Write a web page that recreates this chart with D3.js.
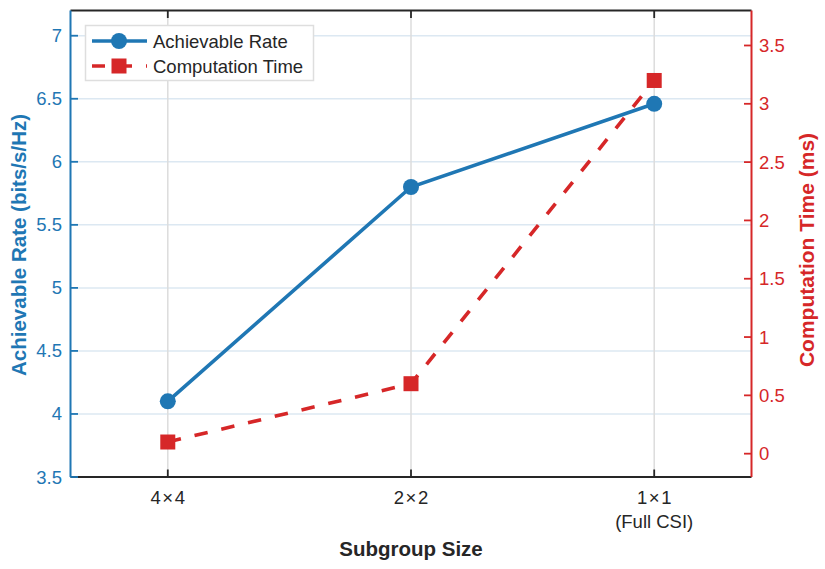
<!DOCTYPE html>
<html><head><meta charset="utf-8">
<script src="https://cdn.jsdelivr.net/npm/d3@7"></script>
<style>body{margin:0;background:#fff;}svg{display:block;font-family:"Liberation Sans",Arial,sans-serif;}</style>
</head><body>
<svg id="c" width="825" height="569"></svg>
<script>
const categories = ["4\u00D74", "2\u00D72", "1\u00D71"];
const categorySub = ["", "", "(Full CSI)"];
const rateValues = [4.10, 5.80, 6.46];
const timeValues = [0.10, 0.60, 3.20];
const leftTicks = [3.5, 4, 4.5, 5, 5.5, 6, 6.5, 7];
const rightTicks = [0, 0.5, 1, 1.5, 2, 2.5, 3, 3.5];

const blue = "#1f77b4", red = "#d62728", dark = "#262626";
const svg = d3.select("#c");
const L = 70.5, R = 751.5, T = 10.5, B = 477;
const x = d3.scaleLinear().domain([-0.4, 2.4]).range([L, R]);
const yL = d3.scaleLinear().domain([3.5, 7.2]).range([B, T]);
const yR = d3.scaleLinear().domain([-0.2, 3.8]).range([B, T]);
const tickFont = 18.5;

// grid
svg.append("g").selectAll("line").data(leftTicks.slice(1)).join("line")
  .attr("x1", L).attr("x2", R).attr("y1", d => yL(d)).attr("y2", d => yL(d))
  .attr("stroke", "#dce8f2").attr("stroke-width", 1.5);
svg.append("g").selectAll("line").data(categories).join("line")
  .attr("x1", (d,i) => x(i)).attr("x2", (d,i) => x(i)).attr("y1", T).attr("y2", B)
  .attr("stroke", "#dcdcdc").attr("stroke-width", 1.5);

// box top/bottom
svg.append("line").attr("x1", L).attr("x2", R).attr("y1", T).attr("y2", T).attr("stroke", dark).attr("stroke-width", 1.8);
svg.append("line").attr("x1", L).attr("x2", R).attr("y1", B).attr("y2", B).attr("stroke", dark).attr("stroke-width", 1.8);

// x ticks
const xt = svg.append("g");
categories.forEach((c, i) => {
  xt.append("line").attr("x1", x(i)).attr("x2", x(i)).attr("y1", B).attr("y2", B - 7.5).attr("stroke", dark).attr("stroke-width", 1.8);
  xt.append("line").attr("x1", x(i)).attr("x2", x(i)).attr("y1", T).attr("y2", T + 7.5).attr("stroke", dark).attr("stroke-width", 1.8);
  xt.append("text").attr("x", x(i) + 0.8).attr("y", 503.5).attr("text-anchor", "middle").attr("fill", dark)
    .attr("font-size", tickFont).attr("letter-spacing", 1.6).text(c);
  if (categorySub[i]) xt.append("text").attr("x", x(i)).attr("y", 527.5).attr("text-anchor", "middle").attr("fill", dark).attr("font-size", tickFont).text(categorySub[i]);
});

// left axis
const gl = svg.append("g");
gl.append("line").attr("x1", L).attr("x2", L).attr("y1", T).attr("y2", B).attr("stroke", blue).attr("stroke-width", 2);
leftTicks.forEach(t => {
  gl.append("line").attr("x1", L).attr("x2", L + 7.5).attr("y1", yL(t)).attr("y2", yL(t)).attr("stroke", blue).attr("stroke-width", 1.8);
  gl.append("text").attr("x", L - 8.5).attr("y", yL(t) + 6.5).attr("text-anchor", "end").attr("fill", blue).attr("font-size", tickFont).text(t);
});
// right axis
const gr = svg.append("g");
gr.append("line").attr("x1", R).attr("x2", R).attr("y1", T).attr("y2", B).attr("stroke", red).attr("stroke-width", 2);
rightTicks.forEach(t => {
  gr.append("line").attr("x1", R).attr("x2", R - 7.5).attr("y1", yR(t)).attr("y2", yR(t)).attr("stroke", red).attr("stroke-width", 1.8);
  gr.append("text").attr("x", R + 7.5).attr("y", yR(t) + 6.5).attr("text-anchor", "start").attr("fill", red).attr("font-size", tickFont).text(t);
});

// axis titles
svg.append("text").attr("transform", "translate(26,245) rotate(-90)").attr("text-anchor", "middle")
  .attr("fill", blue).attr("font-size", 20.5).attr("font-weight", "bold").text("Achievable Rate (bits/s/Hz)");
svg.append("text").attr("transform", "translate(814,250) rotate(-90)").attr("text-anchor", "middle")
  .attr("fill", red).attr("font-size", 21).attr("font-weight", "bold").text("Computation Time (ms)");
svg.append("text").attr("x", 411).attr("y", 556).attr("text-anchor", "middle")
  .attr("fill", dark).attr("font-size", 20.5).attr("font-weight", "bold").text("Subgroup Size");

// series
const lineL = d3.line().x((d,i) => x(i)).y(d => yL(d));
const lineR = d3.line().x((d,i) => x(i)).y(d => yR(d));
svg.append("path").datum(timeValues).attr("d", lineR).attr("fill", "none").attr("stroke", red)
  .attr("stroke-width", 3.6).attr("stroke-dasharray", "13.5,14");
svg.append("g").selectAll("rect").data(timeValues).join("rect")
  .attr("x", (d,i) => x(i) - 7.5).attr("y", d => yR(d) - 7.5).attr("width", 15).attr("height", 15).attr("fill", red);
svg.append("path").datum(rateValues).attr("d", lineL).attr("fill", "none").attr("stroke", blue).attr("stroke-width", 3.6);
svg.append("g").selectAll("circle").data(rateValues).join("circle")
  .attr("cx", (d,i) => x(i)).attr("cy", d => yL(d)).attr("r", 8).attr("fill", blue);

// legend
const lg = svg.append("g");
lg.append("rect").attr("x", 85.5).attr("y", 25.5).attr("width", 228).attr("height", 55).attr("fill", "#fff").attr("stroke", "#dedede").attr("stroke-width", 1.5);
lg.append("line").attr("x1", 92).attr("x2", 147).attr("y1", 41).attr("y2", 41).attr("stroke", blue).attr("stroke-width", 3.6);
lg.append("circle").attr("cx", 119).attr("cy", 41).attr("r", 8).attr("fill", blue);
lg.append("text").attr("x", 153).attr("y", 48).attr("fill", dark).attr("font-size", 18.5).text("Achievable Rate");
lg.append("line").attr("x1", 92).attr("x2", 147).attr("y1", 66).attr("y2", 66).attr("stroke", red).attr("stroke-width", 3.6).attr("stroke-dasharray", "13,14");
lg.append("rect").attr("x", 111.5).attr("y", 58.5).attr("width", 15).attr("height", 15).attr("fill", red);
lg.append("text").attr("x", 153).attr("y", 73).attr("fill", dark).attr("font-size", 18.5).text("Computation Time");
</script>
</body></html>
